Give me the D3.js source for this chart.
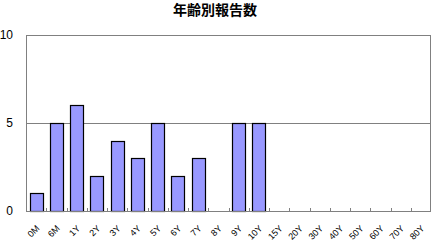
<!DOCTYPE html>
<html>
<head>
<meta charset="utf-8">
<script src="https://cdn.jsdelivr.net/npm/d3@7"></script>
<style>
  body { margin: 0; background: #fff; }
  svg { display: block; font-family: "Noto Sans CJK JP", "DejaVu Sans", sans-serif; }
</style>
</head>
<body>
<div id="chart"></div>
<script>
// カテゴリと件数
const categories = ["0M", "6M", "1Y", "2Y", "3Y", "4Y", "5Y", "6Y", "7Y", "8Y", "9Y", "10Y",
  "15Y", "20Y", "30Y", "40Y", "50Y", "60Y", "70Y", "80Y"];
const counts = [1, 5, 6, 2, 4, 3, 5, 2, 3, 0, 5, 5, 0, 0, 0, 0, 0, 0, 0, 0];
const yTicks = [0, 5, 10];
const title = "年齢別報告数";

const width = 433, height = 244;
const margin = { top: 35, right: 2, bottom: 33, left: 26 };

const data = categories.map((c, i) => ({ name: c, value: counts[i] }));

const svg = d3.select("#chart").append("svg")
  .attr("width", width)
  .attr("height", height);

const x = d3.scaleBand()
  .domain(categories)
  .range([margin.left, width - margin.right])
  .paddingInner(0.35)
  .paddingOuter(0.175);

const xb = d3.scaleBand()
  .domain(categories)
  .range([margin.left, width - margin.right]);

const y = d3.scaleLinear()
  .domain([0, 10])
  .range([height - margin.bottom, margin.top]);

// 枠
svg.append("rect")
  .attr("x", margin.left + 0.5)
  .attr("y", y(10) + 0.5)
  .attr("width", width - margin.right - margin.left - 1)
  .attr("height", y(0) - y(10))
  .attr("fill", "none")
  .attr("stroke", "#808080");

// グリッド線
svg.append("g")
  .selectAll("line")
  .data(yTicks.filter(d => d > 0 && d < 10))
  .enter().append("line")
  .attr("x1", margin.left)
  .attr("x2", width - margin.right)
  .attr("y1", d => Math.round(y(d)) + 0.5)
  .attr("y2", d => Math.round(y(d)) + 0.5)
  .attr("stroke", "#808080");

// Y軸ラベル
svg.append("g")
  .selectAll("text")
  .data(yTicks)
  .enter().append("text")
  .attr("x", 13)
  .attr("y", d => y(d))
  .attr("dy", "0.36em")
  .attr("text-anchor", "end")
  .attr("font-size", "12px")
  .attr("font-family", "'Liberation Sans', Arial, sans-serif")
  .attr("fill", "#000")
  .text(d => d);

// Y軸の目盛り
svg.append("g")
  .selectAll("line")
  .data(yTicks)
  .enter().append("line")
  .attr("x1", margin.left)
  .attr("x2", margin.left + 3)
  .attr("y1", d => Math.round(y(d)) + 0.5)
  .attr("y2", d => Math.round(y(d)) + 0.5)
  .attr("stroke", "#808080");

// 棒
svg.selectAll(".bar")
  .data(data.filter(d => d.value > 0))
  .enter().append("rect")
  .attr("class", "bar")
  .attr("x", d => Math.round(x(d.name)) + 0.5)
  .attr("y", d => Math.round(y(d.value)) + 0.5)
  .attr("width", Math.round(x.bandwidth()))
  .attr("height", d => Math.round(y(0)) - Math.round(y(d.value)))
  .attr("fill", "#9999ff")
  .attr("stroke", "#000")
  .attr("stroke-width", 1.2);

// X軸線
svg.append("line")
  .attr("x1", margin.left)
  .attr("x2", width - margin.right)
  .attr("y1", Math.round(y(0)) + 0.5)
  .attr("y2", Math.round(y(0)) + 0.5)
  .attr("stroke", "#808080");

// X軸の目盛り（区切り）
svg.append("g")
  .selectAll("line")
  .data(categories.slice(1))
  .enter().append("line")
  .attr("x1", d => Math.round(xb(d)) + 0.5)
  .attr("x2", d => Math.round(xb(d)) + 0.5)
  .attr("y1", Math.round(y(0)))
  .attr("y2", Math.round(y(0)) - 3)
  .attr("stroke", "#808080");

// X軸ラベル
svg.append("g")
  .selectAll("text")
  .data(categories)
  .enter().append("text")
  .attr("transform", d => `translate(${xb(d) + xb.bandwidth() / 2 + 4},${y(0) + 18}) rotate(-45)`)
  .attr("text-anchor", "end")
  .attr("font-size", "9px")
  .attr("font-family", "'Liberation Sans', Arial, sans-serif")
  .attr("fill", "#000")
  .text(d => d);

// タイトル
svg.append("text")
  .attr("x", 215)
  .attr("y", 15)
  .attr("text-anchor", "middle")
  .attr("font-size", "14px")
  .attr("font-weight", "bold")
  .attr("fill", "#000")
  .text(title);
</script>
</body>
</html>
